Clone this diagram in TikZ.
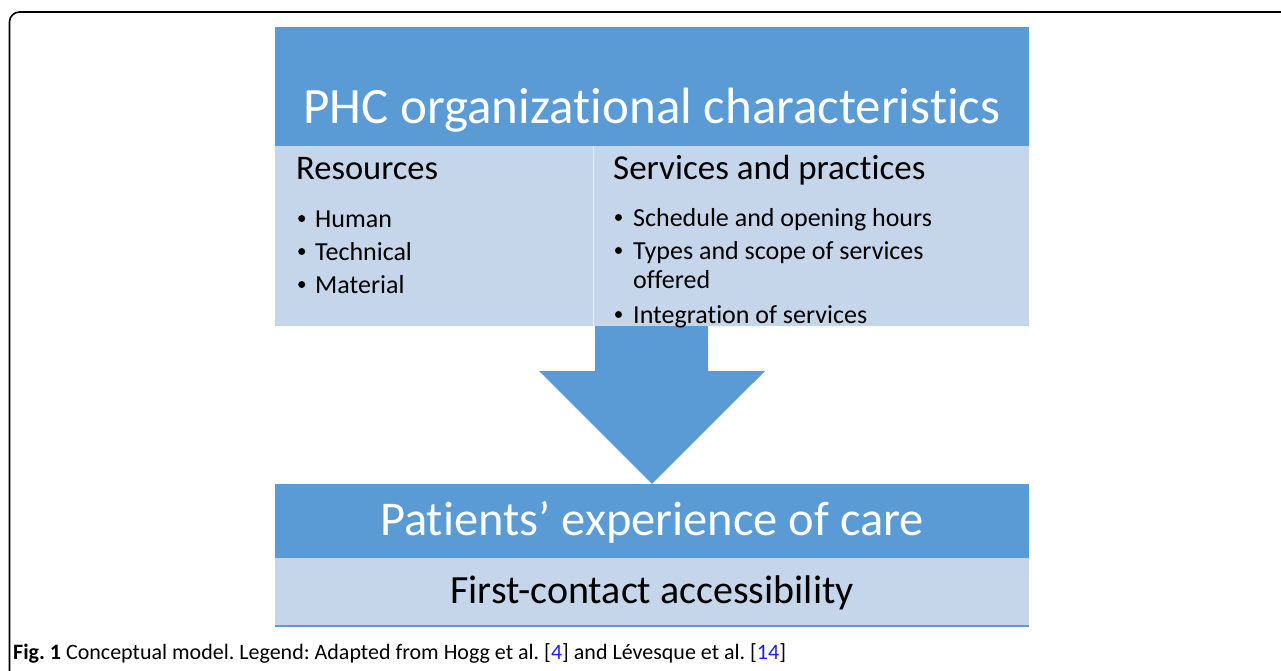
\documentclass[tikz,border=0pt]{standalone}
\usepackage{fontspec}
\setmainfont[Ligatures=NoCommon]{Carlito}
\definecolor{hdrblue}{RGB}{91,155,213}
\definecolor{bodyblue}{RGB}{197,214,235}
\definecolor{refblue}{RGB}{30,30,235}
\frenchspacing

\begin{document}
\begin{tikzpicture}[x=1pt,y=-1pt,
	box/.style={inner sep=0, minimum width=754},
	hdr/.style={box, fill=hdrblue},
	body/.style={box, fill=bodyblue},
	txt/.style={inner sep=0, anchor=base west},
	ctxt/.style={inner sep=0, anchor=base},
	dot/.style={circle, fill, inner sep=0, minimum size=7},
	big/.style={font=\fontsize{#1}{#1}\selectfont}]
	\useasboundingbox (0,0) rectangle (1281,670);
	% frame
	\draw[line width=1.6, rounded corners=10] (9.5,690) -- (9.5,12) -- (1300,12);

	% boxes
	\node[hdr, minimum height=119] (phc) at (652,86.5) {};
	\node[body, minimum height=180] (org) at (652,236) {};
	\draw[white!55!bodyblue, line width=0.8] (org.north -| 593,0) -- (org.south -| 593,0);
	\node[hdr, minimum height=74] (pec) at (652,521) {};
	\node[body, minimum height=68] (fca) at (652,592) {};
	\draw[hdrblue, line width=2] (fca.south west) -- (fca.south east);

	% arrow
	\fill[hdrblue] (595,326) -- (708,326) -- (708,371) -- (765,371) -- (pec.north)
		-- (539,371) -- (595,371) -- cycle;

	% texts
	\node[ctxt, big=51, text=white] (phct) at (652,123) {PHC organizational characteristics};
	\node[txt, big=34.5] (res) at (296,179) {Resources};
	\node[txt, big=35] (svc) at (613,179) {Services and practices};
	\foreach \y/\t [count=\i] in {227/Human, 260/Technical, 293/Material} {
		\node[dot] (resb\i) at (301.7,\y-8.5) {};
		\node[txt, big=26] (rest\i) at (315,\y) {\t};
	}
	\foreach \y/\t [count=\i] in {226/Schedule and opening hours, 259/Types and scope of services, 323/Integration of services} {
		\node[dot] (svcb\i) at (618.5,\y-8.5) {};
		\node[txt, big=26] (svct\i) at (633,\y) {\t};
	}
	\node[txt, big=26] (svcw) at (633,288) {offered};
	\node[ctxt, big=48.5, text=white] (pect) at (652,535) {Patients’ experience of care};
	\node[ctxt, big=40] (fcat) at (652,603) {First-contact accessibility};

	% caption
	\node[txt, big=22] (cap) at (13,659) {\textbf{Fig. 1} Conceptual model. Legend: Adapted from Hogg et al. [\textcolor{refblue}{4}] and Lévesque et al. [\textcolor{refblue}{14}]};
\end{tikzpicture}
\end{document}
